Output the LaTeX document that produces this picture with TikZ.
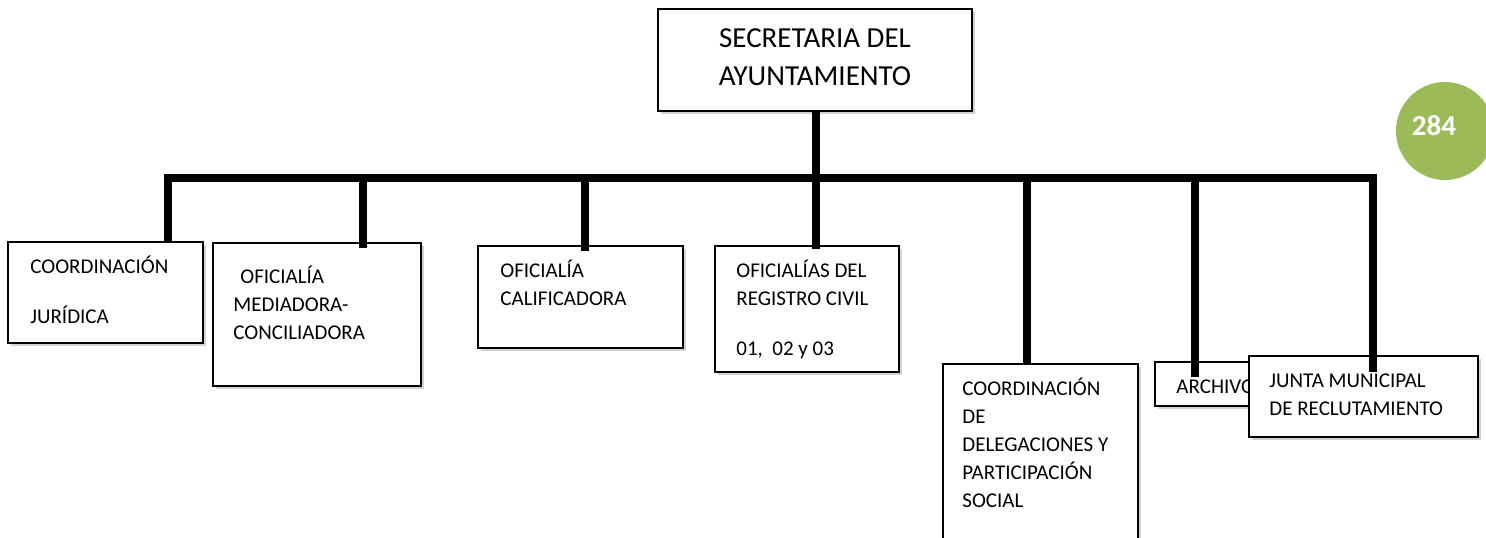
\documentclass[tikz,border=0pt]{standalone}
\usepackage{fontspec}
\setmainfont{Carlito}
\usetikzlibrary{fit,shadows}

\begin{document}
\begin{tikzpicture}[x=0.5pt,y=-0.5pt,
        caja/.style={draw=black, line width=1pt, fill=white, inner sep=0pt,
          drop shadow={shadow xshift=1.5pt, shadow yshift=-1.5pt, fill=black!35, opacity=0.5}},
        texto/.style={anchor=north west, align=left, inner sep=0pt, font=\fontsize{10.5}{14}\selectfont},
        linea/.style={line width=4pt, line join=miter}]
        \useasboundingbox (0,0) rectangle (1486,537);
        % cajas
        \node[caja, fit={(658,9) (972,111)}] (sec) {};
        \node[caja, fit={(8,242) (203,343)}] (jur) {};
        \node[caja, fit={(213,243) (421,386)}] (med) {};
        \node[caja, fit={(478,246) (683,348)}] (cal) {};
        \node[caja, fit={(715,246) (899,372)}] (reg) {};
        \node[caja, fit={(943,364) (1138,560)}] (del) {};
        \node[caja, fit={(1155,362) (1265,406)}] (arc) {};
        \node[texto] (tarc) at (1176,373.4) {\strut ARCHIVO};
        \node[caja, fit={(1249,356) (1478,437)}] (jun) {};
        % textos
        \node[anchor=north, align=center, inner sep=0pt, font=\fontsize{14.5}{19}\selectfont] (tsec) at (815,20.4) {\strut SECRETARIA DEL\\AYUNTAMIENTO};
        \node[texto] (tjur) at (30,253.4) {\strut COORDINACIÓN\\[11pt]JURÍDICA};
        \node[texto] (tmed) at (233,263.4) {\strut\hspace*{3.5pt}OFICIALÍA\\MEDIADORA-\\CONCILIADORA};
        \node[texto] (tcal) at (500,257.4) {\strut OFICIALÍA\\CALIFICADORA};
        \node[texto] (treg) at (736,257.4) {\strut OFICIALÍAS DEL\\REGISTRO CIVIL\\[11pt]01,\ \ 02 y 03};
        \node[texto] (tdel) at (962,375.4) {\strut COORDINACIÓN\\DE\\DELEGACIONES Y\\PARTICIPACIÓN\\SOCIAL};
        \node[texto] (tjun) at (1269,367.4) {\strut JUNTA MUNICIPAL\\DE RECLUTAMIENTO};
        % lineas
        \coordinate (b1) at (168,178);
        \coordinate (b2) at (363,178);
        \coordinate (b3) at (585,178);
        \coordinate (b4) at (816,178);
        \coordinate (b5) at (1027,178);
        \coordinate (b6) at (1195,178);
        \coordinate (b7) at (1373,178);
        \coordinate (f2) at (363,248);
        \coordinate (f3) at (585,251);
        \coordinate (f4) at (816,249);
        \coordinate (f6) at (1195,377);
        \coordinate (f7) at (1373,372);
        \draw[linea] (b1 |- jur.north) -- (b1) -- (b7) -- (f7);
        \draw[linea] (b2) -- (f2);
        \draw[linea] (b3) -- (f3);
        \draw[linea] (sec.south -| b4) -- (f4);
        \draw[linea] (b5) -- (b5 |- del.north);
        \draw[linea] (b6) -- (f6);
        % pagina
        \node[circle, fill={rgb,255:red,155;green,187;blue,89}, minimum size=49pt, inner sep=0pt] (pag) at (1445,131) {};
        \node[text=white, inner sep=0pt, font=\fontsize{14.5}{17}\selectfont\bfseries] (num) at (1434,126) {284};
\end{tikzpicture}
\end{document}
